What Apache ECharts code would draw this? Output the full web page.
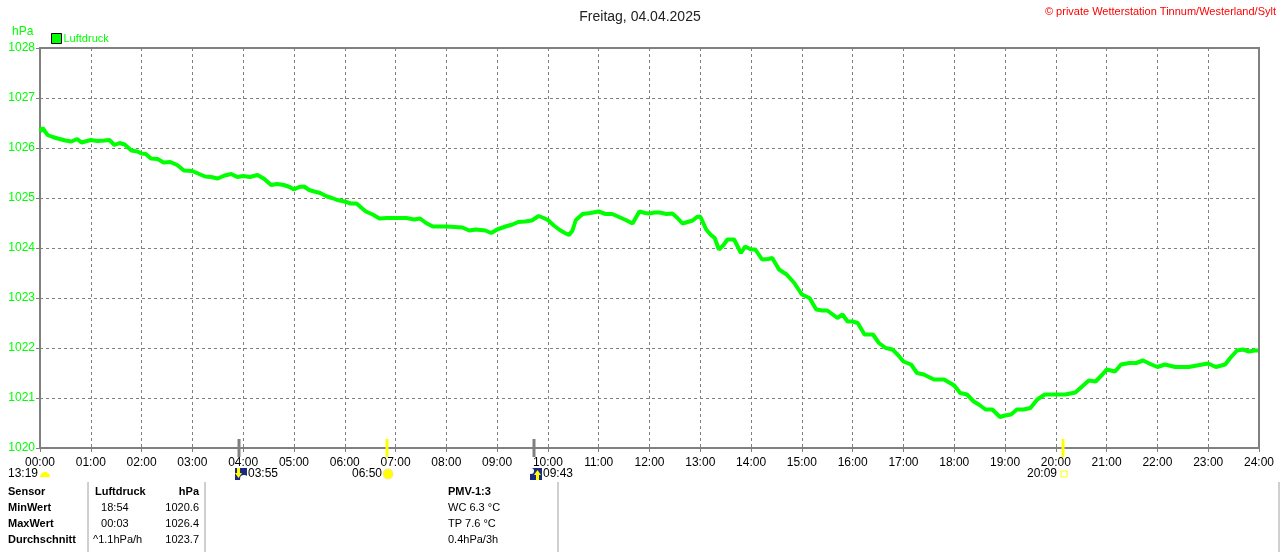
<!DOCTYPE html>
<html>
<head>
<meta charset="utf-8">
<title>Luftdruck 04.04.2025</title>
<script src="https://cdn.jsdelivr.net/npm/echarts/dist/echarts.min.js"></script>
<style>
	html, body { margin: 0; padding: 0; background: #fff; }
	#chart { width: 1280px; height: 552px; }
</style>
</head>
<body>
<div id="chart"></div>
<script>
/*
 */
var times = ['00:00','00:03','00:09','00:15','00:21','00:30','00:37','00:44','00:49','01:00','01:08','01:16','01:22','01:28','01:34','01:40','01:48','01:55',
	'02:00','02:05','02:11','02:19','02:26','02:34','02:42','02:50','03:00','03:08','03:15','03:22','03:30','03:38','03:46','03:53',
	'04:00','04:08','04:17','04:25','04:33','04:40','04:48','04:55','05:00','05:06','05:12','05:18','05:24','05:31','05:39','05:45','05:51',
	'06:00','06:07','06:14','06:20','06:25','06:33','06:41','06:50','07:00','07:13','07:22','07:29','07:36','07:44',
	'08:00','08:10','08:19','08:27','08:35','08:46','08:53','09:00','09:10','09:18','09:25','09:33','09:41','09:49','09:55',
	'10:00','10:07','10:14','10:20','10:25','10:29','10:33','10:41','10:50','11:00','11:08','11:16','11:24','11:32','11:40','11:48','11:55',
	'12:00','12:06','12:12','12:20','12:27','12:33','12:39','12:45','12:51','12:56','13:00','13:07','13:12','13:17','13:22','13:27','13:32','13:40','13:48','13:53',
	'14:00','14:05','14:13','14:20','14:25','14:33','14:42','14:51','15:00','15:09','15:17','15:24','15:30','15:42','15:48','15:54',
	'16:00','16:06','16:14','16:24','16:31','16:39','16:47','16:53','17:00','17:09','17:16','17:24','17:36','17:48','17:55',
	'18:00','18:07','18:15','18:23','18:29','18:37','18:45','18:54','19:00','19:07','19:14','19:22','19:30','19:38','19:47',
	'20:00','20:11','20:23','20:31','20:39','20:47','20:55','21:00','21:10','21:17','21:27','21:35','21:43','21:53',
	'22:00','22:09','22:21','22:37','22:53','23:00','23:09','23:20','23:26','23:34','23:41','23:48','23:55','23:59'];
var pressure = [1026.33,1026.40,1026.26,1026.22,1026.19,1026.15,1026.13,1026.18,1026.11,1026.16,1026.14,1026.15,1026.16,1026.06,1026.10,1026.07,1025.95,1025.93,
	1025.89,1025.88,1025.79,1025.78,1025.71,1025.72,1025.66,1025.55,1025.54,1025.48,1025.43,1025.42,1025.39,1025.45,1025.48,1025.42,
	1025.44,1025.42,1025.46,1025.38,1025.26,1025.28,1025.26,1025.22,1025.17,1025.22,1025.23,1025.16,1025.13,1025.10,1025.03,1025.00,1024.96,
	1024.93,1024.89,1024.89,1024.80,1024.73,1024.67,1024.59,1024.60,1024.60,1024.60,1024.57,1024.59,1024.50,1024.43,
	1024.43,1024.42,1024.41,1024.35,1024.37,1024.35,1024.30,1024.37,1024.43,1024.47,1024.52,1024.53,1024.55,1024.64,1024.60,
	1024.56,1024.45,1024.36,1024.30,1024.26,1024.35,1024.56,1024.68,1024.70,1024.73,1024.68,1024.68,1024.62,1024.56,1024.49,1024.73,1024.70,
	1024.69,1024.71,1024.71,1024.68,1024.69,1024.60,1024.49,1024.52,1024.55,1024.62,1024.63,1024.37,1024.27,1024.20,1023.97,1024.05,1024.17,1024.17,1023.90,1024.03,
	1023.97,1023.97,1023.77,1023.78,1023.80,1023.57,1023.47,1023.30,1023.07,1023.00,1022.77,1022.75,1022.75,1022.60,1022.67,1022.53,
	1022.53,1022.50,1022.27,1022.27,1022.10,1022.00,1021.97,1021.87,1021.73,1021.67,1021.50,1021.47,1021.37,1021.37,1021.30,
	1021.25,1021.10,1021.07,1020.93,1020.87,1020.77,1020.77,1020.62,1020.65,1020.67,1020.77,1020.77,1020.80,1020.97,1021.07,
	1021.07,1021.07,1021.11,1021.23,1021.35,1021.33,1021.47,1021.57,1021.53,1021.67,1021.70,1021.70,1021.75,1021.67,
	1021.62,1021.67,1021.62,1021.62,1021.67,1021.69,1021.62,1021.67,1021.80,1021.95,1021.97,1021.93,1021.95,1021.95];

/*
 * Achsen
 */
var yTicks = [1020, 1021, 1022, 1023, 1024, 1025, 1026, 1027, 1028];
var xHours = [0, 1, 2, 3, 4, 5, 6, 7, 8, 9, 10, 11, 12, 13, 14, 15, 16, 17, 18, 19, 20, 21, 22, 23, 24];

/*
 * Sonne / Mond
 */
var eventTimes = ['03:55', '06:50', '09:43', '20:09'];
var eventKinds = ['moonset', 'sunrise', 'moonrise', 'sunset'];
var moonInfo = '13:19';

/*
 * Tabelle unten
 */
var tabSensor = ['Sensor', 'MinWert', 'MaxWert', 'Durchschnitt'];
var tabTime = ['Luftdruck', '  18:54', '  00:03', '^1.1hPa/h'];
var tabValue = ['hPa', '1020.6', '1026.4', '1023.7'];
var tabPmv = ['PMV-1:3', 'WC 6.3 °C', 'TP 7.6 °C', '0.4hPa/3h'];

var GREEN = '#00ff00';
var GRAY = '#808080';
var FONT = 'Liberation Sans, Arial, sans-serif';

var toMinutes = function(t) {
	var p = t.split(':');
	return parseInt(p[0], 10) * 60 + parseInt(p[1], 10);
};
var pad2 = function(n) {
	return (n < 10 ? '0' : '') + n;
};

var lineData = [];
for (var i = 0; i < times.length; i++) {
	lineData.push([toMinutes(times[i]), pressure[i]]);
}

/*
 * feste Texte der Tabelle
 */
function buildTable() {
	var els = [];
	var rowY = [493, 509, 525, 541];
	for (var r = 0; r < 4; r++) {
		var bold = r == 0 ? 'bold' : 'normal';
		els.push({ type: 'text', left: 8, top: rowY[r] - 7, style: { text: tabSensor[r], font: 'bold 11px ' + FONT, fill: '#000' } });
		els.push({ type: 'text', left: r == 3 ? 93 : 95, top: rowY[r] - 7, style: { text: tabTime[r], font: bold + ' 11px ' + FONT, fill: '#000' } });
		els.push({ type: 'text', right: 1280 - 199, top: rowY[r] - 7, style: { text: tabValue[r], font: bold + ' 11px ' + FONT, fill: '#000', textAlign: 'right' } });
		els.push({ type: 'text', left: 448, top: rowY[r] - 7, style: { text: tabPmv[r], font: bold + ' 11px ' + FONT, fill: '#000' } });
	}
	var sepX = [88, 205, 558, 1279];
	for (var s = 0; s < sepX.length; s++) {
		els.push({ type: 'line', shape: { x1: sepX[s], y1: 482, x2: sepX[s], y2: 552 }, style: { stroke: '#a0a0a0', lineWidth: 1 } });
	}
	return els;
}

/*
 * Sonne- und Mondsymbole an der Zeitachse
 */
function buildEvents(chart) {
	var els = [];
	var y0 = chart.convertToPixel({ yAxisIndex: 0 }, yTicks[0]);
	var iy = y0 + 26;
	for (var n = 0; n < eventTimes.length; n++) {
		var x = Math.round(chart.convertToPixel({ xAxisIndex: 0 }, toMinutes(eventTimes[n])));
		var kind = eventKinds[n];
		var isSun = kind.indexOf('sun') == 0;
		els.push({ type: 'line', z: 20, shape: { x1: x, y1: y0 - 9, x2: x, y2: y0 + 9 },
			style: { stroke: isSun ? '#ffff00' : GRAY, lineWidth: 3 } });
		if (kind == 'moonset' || kind == 'moonrise') {
			els.push({ type: 'rect', z: 20, shape: { x: x - 4, y: iy - 6, width: 12, height: 12 }, style: { fill: '#1a2a80' } });
			if (kind == 'moonset') {
				els.push({ type: 'circle', z: 21, shape: { cx: x + 5, cy: iy + 5, r: 4 }, style: { fill: '#fff' } });
				els.push({ type: 'polygon', z: 22, shape: { points: [[x - 2, iy - 6], [x + 1, iy - 6], [x + 1, iy - 1], [x + 3, iy - 1], [x - 0.5, iy + 4], [x - 4, iy - 1], [x - 2, iy - 1]] }, style: { fill: '#ffff00' } });
			} else {
				els.push({ type: 'circle', z: 21, shape: { cx: x - 3, cy: iy - 3, r: 3 }, style: { fill: '#fff' } });
				els.push({ type: 'polygon', z: 22, shape: { points: [[x + 2, iy + 6], [x + 5, iy + 6], [x + 5, iy + 1], [x + 7, iy + 1], [x + 3.5, iy - 4], [x, iy + 1], [x + 2, iy + 1]] }, style: { fill: '#ffff00' } });
			}
			els.push({ type: 'text', z: 20, left: x + 9, top: iy - 6, style: { text: eventTimes[n], font: '12px ' + FONT, fill: '#000' } });
		} else if (kind == 'sunrise') {
			els.push({ type: 'circle', z: 20, shape: { cx: x + 1, cy: iy, r: 5 }, style: { fill: '#ffff00', stroke: '#ffe680', lineWidth: 1 } });
			els.push({ type: 'text', z: 20, right: 1280 - (x - 5), top: iy - 6, style: { text: eventTimes[n], font: '12px ' + FONT, fill: '#000', textAlign: 'right' } });
		} else {
			els.push({ type: 'rect', z: 20, shape: { x: x - 2, y: iy - 3, width: 6, height: 6 }, style: { fill: 'none', stroke: '#ffff00', lineWidth: 1 } });
			els.push({ type: 'text', z: 20, right: 1280 - (x - 6), top: iy - 6, style: { text: eventTimes[n], font: '12px ' + FONT, fill: '#000', textAlign: 'right' } });
		}
	}
	// Mondphase unter 00:00
	var x0 = chart.convertToPixel({ xAxisIndex: 0 }, 0);
	els.push({ type: 'text', z: 20, left: x0 - 32, top: iy - 6, style: { text: moonInfo, font: '12px ' + FONT, fill: '#000' } });
	els.push({ type: 'sector', z: 20, shape: { cx: x0 + 5, cy: iy + 3, r0: 0, r: 5, startAngle: Math.PI, endAngle: Math.PI * 2 }, style: { fill: '#ffff00' } });
	return els;
}

var chart = echarts.init(document.getElementById('chart'), null, { renderer: 'canvas' });
var option = {
	animation: false,
	backgroundColor: '#fff',
	title: {
		text: 'Freitag, 04.04.2025',
		left: 'center',
		top: 5,
		textStyle: { fontFamily: FONT, fontSize: 14, fontWeight: 'normal', color: '#222' }
	},
	legend: {
		left: 46,
		top: 28,
		icon: 'rect',
		itemWidth: 10,
		itemHeight: 10,
		itemGap: 4,
		data: [{ name: 'Luftdruck', itemStyle: { color: GREEN, borderColor: '#000', borderWidth: 1 } }],
		textStyle: { color: GREEN, fontFamily: FONT, fontSize: 11, padding: [0, 0, 0, -3] }
	},
	grid: {
		left: 40,
		right: 21,
		top: 48,
		bottom: 104,
		show: true,
		borderColor: GRAY,
		borderWidth: 2,
		backgroundColor: '#fff'
	},
	xAxis: {
		type: 'value',
		min: xHours[0] * 60,
		max: xHours[xHours.length - 1] * 60,
		interval: 60,
		axisLine: { show: true, lineStyle: { color: GRAY, width: 2 } },
		axisTick: { show: true, length: 4, lineStyle: { color: GRAY } },
		axisLabel: {
			color: '#000',
			fontFamily: FONT,
			fontSize: 12,
			margin: 9,
			formatter: function(v) { return pad2(Math.round(v / 60)) + ':00'; }
		},
		splitLine: { show: true, lineStyle: { color: GRAY, type: [3, 3], width: 1 } }
	},
	yAxis: {
		type: 'value',
		min: yTicks[0],
		max: yTicks[yTicks.length - 1],
		interval: 1,
		axisLine: { show: true, lineStyle: { color: GRAY, width: 2 } },
		axisTick: { show: true, length: 4, lineStyle: { color: GRAY } },
		axisLabel: {
			color: GREEN,
			fontFamily: FONT,
			fontSize: 12,
			margin: 5,
			formatter: function(v) { return String(v); }
		},
		splitLine: { show: true, lineStyle: { color: GRAY, type: [3, 3], width: 1 } }
	},
	graphic: [
		{ type: 'text', left: 12, top: 26, style: { text: 'hPa', font: '12px ' + FONT, fill: GREEN } },
		{ type: 'text', right: 4, top: 6, style: { text: '\u00a9 private Wetterstation Tinnum/Westerland/Sylt', font: '11px ' + FONT, fill: '#ff0000' } }
	].concat(buildTable()),
	series: [{
		name: 'Luftdruck',
		type: 'line',
		data: lineData,
		showSymbol: false,
		smooth: false,
		lineStyle: { color: GREEN, width: 4 },
		itemStyle: { color: GREEN },
		z: 5
	}]
};
chart.setOption(option);

var baseGraphic = option.graphic;
chart.setOption({ graphic: baseGraphic.concat(buildEvents(chart)) });
</script>
</body>
</html>
